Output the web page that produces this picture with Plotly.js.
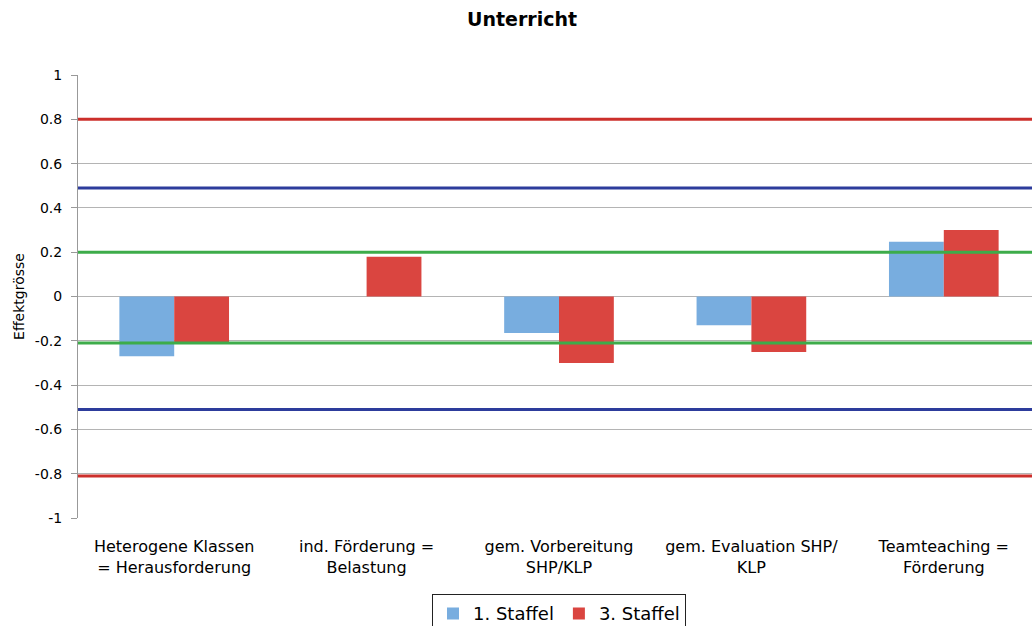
<!DOCTYPE html>
<html>
<head>
<meta charset="utf-8">
<script src="https://cdn.plot.ly/plotly-3.0.1.min.js"></script>
<style>
html,body{margin:0;padding:0;overflow:hidden;background:#fff;}
#chart{width:1044px;height:640px;}
</style>
</head>
<body>
<div id="chart"></div>
<script>
const categories = [
  "Heterogene Klassen<br>= Herausforderung",
  "ind. Förderung =<br>Belastung",
  "gem. Vorbereitung<br>SHP/KLP",
  "gem. Evaluation SHP/<br>KLP",
  "Teamteaching =<br>Förderung"
];
const staffel1 = [-0.27, null, -0.165, -0.13, 0.247];
const staffel3 = [-0.21, 0.18, -0.30, -0.25, 0.30];
const seriesNames = ["1. Staffel", "3. Staffel"];
const yTickVals = [1, 0.8, 0.6, 0.4, 0.2, 0, -0.2, -0.4, -0.6, -0.8, -1];
const yTickText = ["1", "0.8", "0.6", "0.4", "0.2", "0", "-0.2", "-0.4", "-0.6", "-0.8", "-1"];
const redLevels = [0.8, -0.81];
const blueLevels = [0.49, -0.51];
const greenLevels = [0.2, -0.21];
const boundaryVals = [0.5, 1.5, 2.5, 3.5];

const font = "DejaVu Sans, Verdana, sans-serif";

const traces = [
  {type: "bar", x: categories, y: staffel1, name: seriesNames[0],
   marker: {color: "#78addf"}, hoverinfo: "skip"},
  {type: "bar", x: categories, y: staffel3, name: seriesNames[1],
   marker: {color: "#da4540"}, hoverinfo: "skip"}
];

function hline(y, color) {
  return {type: "line", xref: "paper", yref: "y", x0: 0, x1: 1, y0: y, y1: y,
          line: {color: color, width: 3}, layer: "above"};
}
const shapes = []
  .concat(redLevels.map(v => hline(v, "#cc2f2b")))
  .concat(blueLevels.map(v => hline(v, "#2d3c9c")))
  .concat(greenLevels.map(v => hline(v, "#3dac4a")));

const layout = {
  width: 1044, height: 640,
  margin: {l: 78, r: 4, t: 75, b: 122},
  paper_bgcolor: "#fff", plot_bgcolor: "#fff",
  font: {family: font, color: "#000"},
  title: {text: "<b>Unterricht</b>", x: 0.5, xanchor: "center", y: 0.97, yanchor: "middle",
          font: {family: font, size: 19, color: "#000"}},
  barmode: "group",
  bargap: 0.43, bargroupgap: 0,
  showlegend: true,
  legend: {orientation: "h", x: 0.5, xanchor: "center", y: -0.172, yanchor: "top",
           bordercolor: "#222", borderwidth: 1, font: {family: font, size: 18, color: "#000"},
           traceorder: "normal", itemwidth: 30},
  xaxis: {type: "category", range: [-0.5, 4.5], showgrid: false, zeroline: false,
          showline: false, ticks: "", tickfont: {family: font, size: 16, color: "#000"},
          ticklabelstandoff: 17, fixedrange: true},
  xaxis2: {type: "linear", overlaying: "x", anchor: "free", position: 0.5,
           range: [-0.5, 4.5], tickvals: boundaryVals, ticks: "outside", ticklen: 5,
           tickcolor: "#888", showticklabels: false, showline: true, linecolor: "#999",
           linewidth: 1, showgrid: false, zeroline: false, side: "bottom"},
  yaxis: {range: [-1, 1], tickvals: yTickVals, ticktext: yTickText,
          showgrid: true, gridcolor: "#b4b4b4", gridwidth: 1,
          zeroline: false, showline: true, linecolor: "#999", linewidth: 1,
          ticks: "outside", ticklen: 6, tickcolor: "#999", ticklabelstandoff: 6,
          tickfont: {family: font, size: 14, color: "#000"},
          title: {text: "Effektgrösse", font: {family: font, size: 14, color: "#000"}, standoff: 6}},
  shapes: shapes
};

Plotly.newPlot("chart", traces, layout, {displayModeBar: false, staticPlot: true});
</script>
</body>
</html>
